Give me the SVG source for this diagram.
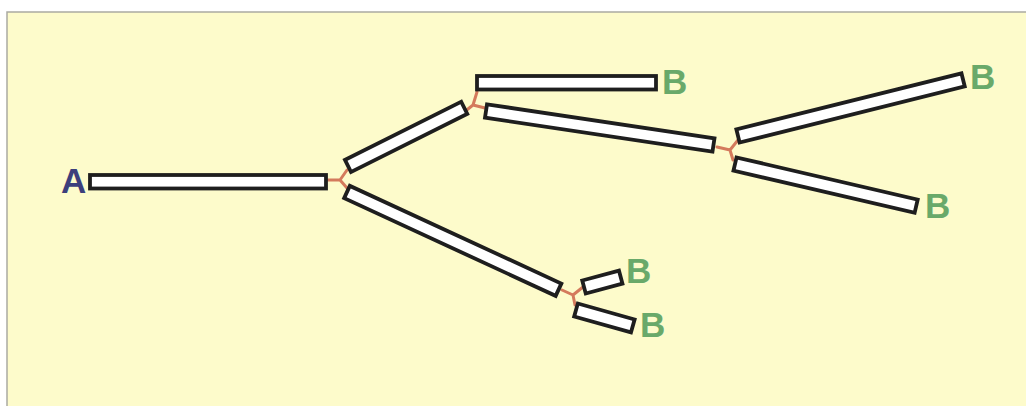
<svg xmlns="http://www.w3.org/2000/svg" width="1026" height="406" viewBox="0 0 1026 406">
<style>
.bar{fill:#ffffff;stroke:#1e1e1e;stroke-width:3.8;stroke-linejoin:miter}
.j{fill:none;stroke:#d47a5c;stroke-width:3;stroke-linecap:round;stroke-linejoin:round}
.lb{font-family:"Liberation Sans",Arial,sans-serif;font-weight:bold;font-size:35px}
.b{fill:#69a96a}
.a{fill:#3c3f7c}
</style>
<rect x="0" y="0" width="1026" height="406" fill="#ffffff"/>
<rect x="7" y="12" width="1019" height="394" fill="#fdfbcb"/>
<path d="M7,406 V12 H1026" fill="none" stroke="#aaaaa2" stroke-width="1.5"/>
<g id="connectors">
<path class="j" d="M328,180 L340,180 M340,180 L347,170 M340,180 L347,188"/>
<path class="j" d="M477,92 L473,105 M473,105 L463,113 M473,105 L485,108"/>
<path class="j" d="M717,147 L730,150 M730,150 L738,140 M730,150 L733,160"/>
<path class="j" d="M562,290 L573,295 M573,295 L583,287 M573,295 L575,305"/>
</g>
<g id="nodeA">
<rect class="bar" x="90" y="175" width="236" height="13.5"/>
<text class="lb a" x="61" y="193">A</text>
</g>
<g id="bar1">
<rect class="bar" x="0" y="-6.75" width="130" height="13.5" transform="translate(348,166) rotate(-26.6)"/>
</g>
<g id="bar2">
<rect class="bar" x="0" y="-6.75" width="233" height="13.5" transform="translate(347,192) rotate(24.8)"/>
</g>
<g id="nodeB1">
<rect class="bar" x="477" y="76" width="179" height="13.5"/>
<text class="lb b" x="662" y="94">B</text>
</g>
<g id="bar3">
<rect class="bar" x="0" y="-6.75" width="230" height="13.5" transform="translate(486,111) rotate(8.5)"/>
</g>
<g id="nodeB2">
<rect class="bar" x="0" y="-6.75" width="232" height="13.5" transform="translate(738,136) rotate(-14)"/>
<text class="lb b" x="970" y="89">B</text>
</g>
<g id="nodeB3">
<rect class="bar" x="0" y="-6.75" width="186" height="13.5" transform="translate(735,164) rotate(13.1)"/>
<text class="lb b" x="925" y="218">B</text>
</g>
<g id="nodeB4">
<rect class="bar" x="0" y="-6.75" width="38" height="13.5" transform="translate(584,287) rotate(-15)"/>
<text class="lb b" x="626" y="283">B</text>
</g>
<g id="nodeB5">
<rect class="bar" x="0" y="-6.75" width="59" height="13.5" transform="translate(576,310) rotate(15.7)"/>
<text class="lb b" x="640" y="337">B</text>
</g>
</svg>
